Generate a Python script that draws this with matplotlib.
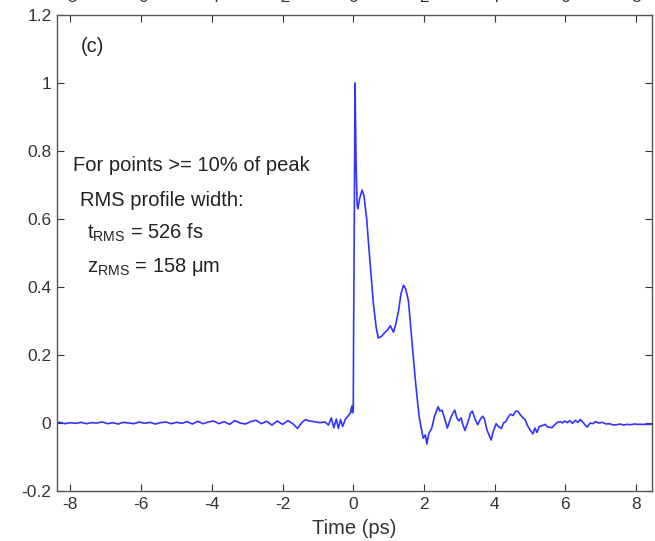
import matplotlib
matplotlib.use("Agg")
import matplotlib.pyplot as plt

plt.rcParams['font.family'] = ['Liberation Sans', 'DejaVu Sans']
plt.rcParams['mathtext.fontset'] = 'custom'
plt.rcParams['mathtext.rm'] = 'Liberation Sans'
plt.rcParams['mathtext.it'] = 'Liberation Sans'

time_ps = [
    -8.45, -8.30, -8.15, -8.00, -7.85, -7.70, -7.55, -7.40, -7.25, -7.10,
    -6.95, -6.80, -6.65, -6.50, -6.35, -6.20, -6.05, -5.90, -5.75, -5.60,
    -5.45, -5.30, -5.15, -5.00, -4.85, -4.70, -4.55, -4.40, -4.25, -4.10,
    -3.95, -3.80, -3.65, -3.50, -3.35, -3.20, -3.05, -2.90, -2.75, -2.60,
    -2.45, -2.30, -2.15, -2.00, -1.85, -1.70, -1.58, -1.45, -1.35, -1.25,
    -1.10, -0.95, -0.80, -0.70, -0.62, -0.55, -0.48, -0.42, -0.36, -0.30,
    -0.22, -0.15, -0.08, -0.04, -0.02, 0.00, 0.01, 0.03, 0.05, 0.07,
    0.08, 0.11, 0.13, 0.18, 0.25, 0.30, 0.38, 0.43, 0.50, 0.57,
    0.65, 0.71, 0.80, 0.90, 0.98, 1.05, 1.10, 1.14, 1.20, 1.28,
    1.35, 1.42, 1.48, 1.56, 1.61, 1.66, 1.75, 1.82, 1.87, 1.93,
    1.98, 2.04, 2.08, 2.14, 2.22, 2.30, 2.40, 2.45, 2.51, 2.58,
    2.66, 2.74, 2.80, 2.87, 2.93, 2.99, 3.05, 3.10, 3.16, 3.25,
    3.32, 3.37, 3.45, 3.52, 3.60, 3.66, 3.71, 3.78, 3.84, 3.90,
    3.96, 4.04, 4.10, 4.19, 4.25, 4.32, 4.40, 4.45, 4.52, 4.60,
    4.66, 4.72, 4.80, 4.86, 4.94, 5.00, 5.08, 5.14, 5.20, 5.26,
    5.34, 5.43, 5.50, 5.56, 5.62, 5.70, 5.78, 5.86, 5.92, 5.98,
    6.05, 6.12, 6.20, 6.28, 6.35, 6.42, 6.48, 6.56, 6.62, 6.70,
    6.78, 6.85, 6.95, 7.05, 7.15, 7.25, 7.35, 7.45, 7.55, 7.65,
    7.75, 7.85, 7.95, 8.05, 8.15, 8.30, 8.45,
]

signal = [
    0.000, 0.002, -0.002, 0.001, -0.001, 0.002, -0.002, 0.001, 0.000, 0.003,
    -0.002, 0.001, -0.003, 0.002, 0.000, -0.002, 0.003, -0.001, 0.002, -0.003,
    0.001, 0.003, -0.002, 0.002, -0.001, 0.004, -0.003, 0.005, -0.002, 0.003,
    0.006, -0.002, 0.004, -0.004, 0.007, 0.000, -0.003, 0.004, 0.008, -0.002,
    0.005, -0.006, 0.006, -0.004, 0.007, -0.003, -0.016, 0.002, 0.010, 0.006,
    0.004, 0.001, 0.003, -0.006, 0.015, -0.014, 0.012, -0.016, 0.010, -0.010,
    0.012, 0.020, 0.030, 0.050, 0.030, 0.040, 0.270, 0.600, 1.000, 0.850,
    0.760, 0.640, 0.630, 0.660, 0.685, 0.670, 0.600, 0.530, 0.440, 0.350,
    0.280, 0.250, 0.255, 0.267, 0.275, 0.286, 0.275, 0.267, 0.290, 0.330,
    0.380, 0.405, 0.395, 0.360, 0.300, 0.240, 0.133, 0.060, 0.015, -0.020,
    -0.045, -0.035, -0.062, -0.030, -0.015, 0.020, 0.048, 0.035, 0.038, 0.015,
    -0.015, 0.010, 0.025, 0.038, 0.015, 0.006, 0.015, -0.005, -0.022, 0.005,
    0.030, 0.035, 0.010, -0.005, 0.012, 0.020, 0.012, -0.020, -0.035, -0.050,
    -0.025, -0.002, -0.010, -0.016, 0.000, 0.005, 0.020, 0.026, 0.022, 0.035,
    0.034, 0.025, 0.015, 0.010, -0.010, -0.020, -0.032, -0.015, -0.028, -0.010,
    -0.008, -0.004, -0.012, -0.012, -0.014, -0.005, 0.002, 0.004, 0.000, 0.006,
    0.001, 0.007, -0.001, 0.008, 0.002, 0.010, 0.004, -0.006, -0.012, 0.000,
    -0.002, 0.004, 0.000, 0.002, -0.003, -0.002, -0.006, -0.005, -0.003, -0.006,
    -0.004, -0.005, -0.003, -0.004, -0.004, -0.004, -0.004,
]

x_ticks = [-8, -6, -4, -2, 0, 2, 4, 6, 8]
y_ticks = [-0.2, 0, 0.2, 0.4, 0.6, 0.8, 1, 1.2]
y_tick_labels = ['-0.2', '0', '0.2', '0.4', '0.6', '0.8', '1', '1.2']

fig = plt.figure(figsize=(6.55, 5.41), dpi=100)
ax = fig.add_axes([57 / 655, 1 - 491 / 541, (652 - 57) / 655, (491 - 15) / 541])

ax.plot(time_ps, signal, color='#3333ff', linewidth=1.2)

ax.set_xlim(-8.38, 8.45)
ax.set_ylim(-0.2, 1.2)
ax.set_xticks(x_ticks)
ax.set_xticklabels([str(v) for v in x_ticks])
ax.set_yticks(y_ticks)
ax.set_yticklabels(y_tick_labels)
ax.tick_params(direction='in', top=True, right=True, labelsize=12.5,
               length=5, width=0.8, colors='#333333', pad=4)
for s in ax.spines.values():
    s.set_color('#555555')
    s.set_linewidth(1.0)

sec = ax.secondary_xaxis('top')
sec.set_xticks(x_ticks)
sec.set_xticklabels([str(v) for v in x_ticks])
sec.tick_params(direction='in', length=0, labelsize=12.5, colors='#333333', pad=7)
sec.spines['top'].set_visible(False)

ax.set_xlabel('Time (ps)', fontsize=14.5, color='#333333', labelpad=5)

txt = dict(fontsize=14.5, color='#222222', va='center', ha='left')
ax.text(-7.72, 1.108, '(c)', **txt)
ax.text(-7.94, 0.757, 'For points >= 10% of peak', **txt)
ax.text(-7.72, 0.653, 'RMS profile width:', **txt)
ax.text(-7.52, 0.560, r't$_{\mathrm{RMS}}$ = 526 fs', **txt)
ax.text(-7.52, 0.460, r'z$_{\mathrm{RMS}}$ = 158 μm', **txt)

fig.savefig('out.png', dpi=100)
